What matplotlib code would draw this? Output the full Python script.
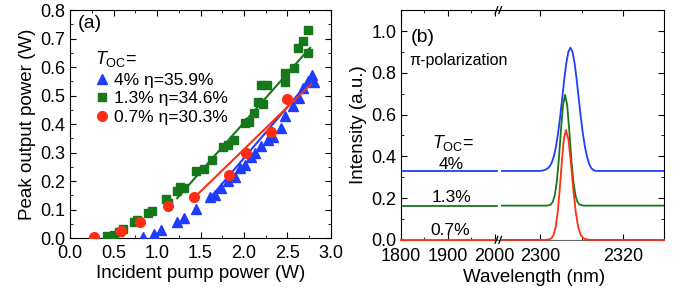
import numpy as np
import matplotlib
matplotlib.use('Agg')
from matplotlib import pyplot as plt
from matplotlib.lines import Line2D

plt.rcParams['font.family'] = ['Liberation Sans', 'DejaVu Sans']
plt.rcParams['mathtext.fontset'] = 'custom'
plt.rcParams['mathtext.rm'] = 'Liberation Sans'
plt.rcParams['mathtext.it'] = 'Liberation Sans:italic'

# ---- panel (a): peak output power vs incident pump power ----
toc4_x = [0.84, 0.97, 1.05, 1.23, 1.31, 1.45, 1.61, 1.67, 1.73, 1.82, 1.90, 1.95, 2.01,
          2.08, 2.13, 2.20, 2.28, 2.33, 2.43, 2.47, 2.56, 2.63, 2.68, 2.74, 2.78, 2.80]
toc4_y = [0.004, 0.013, 0.027, 0.058, 0.070, 0.102, 0.146, 0.152, 0.175, 0.200, 0.215, 0.245, 0.257,
          0.285, 0.298, 0.322, 0.345, 0.355, 0.386, 0.427, 0.462, 0.491, 0.526, 0.553, 0.573, 0.549]
toc13_x = [0.42, 0.50, 0.56, 0.61, 0.73, 0.77, 0.90, 0.94, 1.10, 1.13, 1.23, 1.26, 1.31, 1.45,
           1.54, 1.63, 1.76, 1.82, 1.89, 2.01, 2.06, 2.11, 2.16, 2.22, 2.20, 2.26, 2.47, 2.47,
           2.57, 2.62, 2.68, 2.74, 2.74]
toc13_y = [0.008, 0.012, 0.023, 0.032, 0.055, 0.062, 0.088, 0.096, 0.137, 0.125, 0.164, 0.181, 0.175, 0.237,
           0.242, 0.275, 0.321, 0.327, 0.345, 0.403, 0.409, 0.439, 0.479, 0.470, 0.538, 0.538, 0.549, 0.581,
           0.596, 0.667, 0.690, 0.649, 0.731]
toc07_x = [0.27, 0.59, 0.80, 1.12, 1.42, 1.83, 2.02, 2.31, 2.50]
toc07_y = [0.005, 0.026, 0.056, 0.111, 0.146, 0.222, 0.300, 0.371, 0.488]

# linear fits (end points)
fit4_x, fit4_y = [1.59, 2.78], [0.134, 0.561]
fit13_x, fit13_y = [1.23, 2.76], [0.140, 0.668]
fit07_x, fit07_y = [1.42, 2.77], [0.140, 0.540]

labels_a = ['4% η=35.9%', '1.3% η=34.6%', '0.7% η=30.3%']

# ---- panel (b): spectra ----
base_wl = [1800, 2005]
blue_base, green_base, red_base = 0.330, 0.164, 0.0
blue_wl = [2290.7, 2300.0, 2300.8, 2301.3, 2301.8, 2302.3, 2302.8, 2303.3, 2303.8, 2304.3,
           2304.8, 2305.3, 2305.8, 2306.3, 2306.8, 2307.3, 2307.8, 2308.3, 2308.8, 2309.3,
           2309.8, 2310.3, 2310.8, 2311.3, 2311.8, 2312.3, 2312.8, 2313.5, 2330.0]
blue_int = [0.330, 0.330, 0.333, 0.337, 0.342, 0.353, 0.372, 0.402, 0.448, 0.511,
            0.589, 0.679, 0.769, 0.847, 0.901, 0.920, 0.901, 0.847, 0.769, 0.679,
            0.589, 0.511, 0.448, 0.400, 0.366, 0.345, 0.335, 0.330, 0.330]
green_wl = [2290.7, 2301.5, 2302.0, 2302.5, 2303.0, 2303.5, 2304.0, 2304.5, 2305.0, 2305.5,
            2306.0, 2306.5, 2307.0, 2307.5, 2308.0, 2308.5, 2309.0, 2309.5, 2310.5, 2330.0]
green_int = [0.164, 0.164, 0.165, 0.169, 0.182, 0.214, 0.281, 0.390, 0.527, 0.646,
             0.694, 0.646, 0.527, 0.390, 0.281, 0.214, 0.182, 0.169, 0.164, 0.164]
red_wl = [2290.7, 2301.5, 2302.2, 2302.7, 2303.2, 2303.7, 2304.2, 2304.7, 2305.2, 2305.7,
          2306.2, 2306.8, 2307.4, 2308.0, 2308.6, 2309.2, 2309.8, 2310.4, 2311.0, 2312.0, 2330.0]
red_int = [0.0, 0.0, 0.003, 0.008, 0.023, 0.060, 0.131, 0.241, 0.372, 0.482,
           0.526, 0.482, 0.372, 0.241, 0.131, 0.060, 0.023, 0.008, 0.003, 0.0, 0.0]

BLUE = '#1f3cff'
GREEN = '#16781a'
RED = '#ff2e12'
TICK_FS = 13
LABEL_FS = 13.5

fig = plt.figure(figsize=(6.81, 2.89), dpi=100)

#---------- (a) ----------
ax = fig.add_axes([0.103, 0.176, 0.383, 0.789])
ax.plot(toc4_x, toc4_y, '^', color=BLUE, ms=7.5, mec=BLUE, label=labels_a[0], zorder=3)
ax.plot(toc13_x, toc13_y, 's', color=GREEN, ms=6, mec=GREEN, label=labels_a[1], zorder=3)
ax.plot(toc07_x, toc07_y, 'o', color=RED, ms=7, mec=RED, label=labels_a[2], zorder=4)
ax.plot(fit13_x, fit13_y, '-', color=GREEN, lw=1.5, zorder=2)
ax.plot(fit4_x, fit4_y, '-', color=BLUE, lw=1.5, zorder=2)
ax.plot(fit07_x, fit07_y, '-', color=RED, lw=1.5, zorder=5)
ax.set_xlim(0, 3.0)
ax.set_ylim(0, 0.8)
ax.set_xticks(np.arange(0, 3.01, 0.5))
ax.set_xticks(np.arange(0, 3.01, 0.25), minor=True)
ax.set_yticks(np.arange(0, 0.81, 0.1))
ax.set_yticks(np.arange(0, 0.81, 0.05), minor=True)
ax.tick_params(which='both', direction='in', top=True, right=True, labelsize=TICK_FS)
ax.tick_params(which='major', length=4)
ax.tick_params(which='minor', length=2)
ax.tick_params(axis='x', pad=5)
ax.set_xlabel('Incident pump power (W)', fontsize=LABEL_FS, labelpad=2)
ax.set_ylabel('Peak output power (W)', fontsize=LABEL_FS, labelpad=3)
ax.text(0.03, 0.92, '(a)', transform=ax.transAxes, fontsize=14)
leg = ax.legend(loc='upper left', bbox_to_anchor=(0.07, 0.86), frameon=False,
                title=r'$T_{\rm OC}$=', fontsize=12.5, title_fontsize=13,
                handlelength=0.8, handletextpad=0.3, labelspacing=0.2,
                borderaxespad=0, alignment='left')

#---------- (b) ----------
b1 = fig.add_axes([0.589, 0.170, 0.144, 0.795])
b2 = fig.add_axes([0.733, 0.170, 0.242, 0.795])
b1.patch.set_alpha(0)
b2.patch.set_alpha(0)
b1.plot(base_wl, [blue_base, blue_base], color=BLUE, lw=1.3)
b1.plot(base_wl, [green_base, green_base], color=GREEN, lw=1.3)
b1.plot(base_wl, [red_base, red_base], color=RED, lw=1.3, clip_on=False, zorder=5)
b2.plot(blue_wl, blue_int, color=BLUE, lw=1.3)
b2.plot(green_wl, green_int, color=GREEN, lw=1.3)
b2.plot(red_wl, red_int, color=RED, lw=1.3, clip_on=False, zorder=5)

for a in (b1, b2):
    a.set_ylim(0, 1.1)
    a.set_yticks(np.arange(0, 1.01, 0.2))
    a.set_yticks(np.arange(0, 1.01, 0.1), minor=True)
    a.tick_params(which='both', direction='in', top=True, labelsize=TICK_FS)
    a.tick_params(which='major', length=4)
    a.tick_params(which='minor', length=2)
    a.tick_params(axis='x', pad=6)
    a.spines['bottom'].set_color('#666666')

b1.set_xlim(1800, 2010)
b1.set_xticks([1800, 1900, 2000])
b1.set_xticks([1850, 1950], minor=True)
b1.spines['right'].set_visible(False)
b1.tick_params(which='both', right=False)
b1.set_ylabel('Intensity (a.u.)', fontsize=LABEL_FS, labelpad=3)

b2.set_xlim(2290, 2330)
b2.set_xticks([2300, 2320])
b2.set_xticks([2310], minor=True)
b2.spines['left'].set_visible(False)
b2.tick_params(which='both', left=False, labelleft=False, right=True)

fig.text(0.784, 0.025, 'Wavelength (nm)', ha='center', fontsize=LABEL_FS)
b1.text(0.10, 0.86, '(b)', transform=b1.transAxes, fontsize=14)
b1.text(0.08, 0.76, 'π-polarization', transform=b1.transAxes, fontsize=11.5, zorder=10)
b1.text(0.31, 0.40, r'$T_{\rm OC}$=', transform=b1.transAxes, fontsize=13)
b1.text(0.38, 0.31, '4%', transform=b1.transAxes, fontsize=12.5)
b1.text(0.31, 0.165, '1.3%', transform=b1.transAxes, fontsize=12.5)
b1.text(0.30, 0.02, '0.7%', transform=b1.transAxes, fontsize=12.5)

# break marks "//"
bx = 0.733
for by in (0.170, 0.965):
    for dx in (-0.004, 0.0015):
        fig.add_artist(Line2D([bx + dx - 0.002, bx + dx + 0.002], [by - 0.012, by + 0.012],
                              color='k', lw=0.9))

fig.savefig('out.png', dpi=100)
